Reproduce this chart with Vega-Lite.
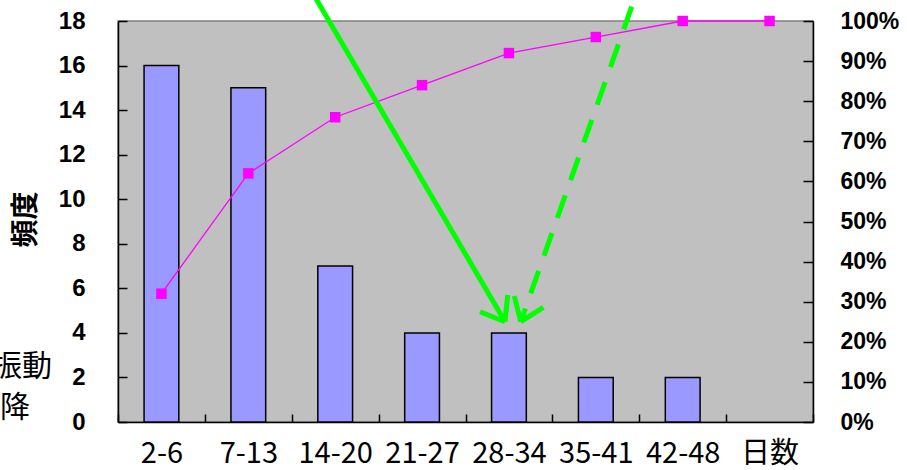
{
  "$schema": "https://vega.github.io/schema/vega-lite/v6.json",
  "width": 695,
  "height": 401,
  "autosize": "none",
  "padding": {"left": 118, "top": 21, "right": 94, "bottom": 48},
  "background": "white",
  "config": {
    "view": {"fill": "#C0C0C0", "stroke": "#808080", "strokeWidth": 1.5}
  },
  "datasets": {
    "hist": [
      {"cls": "2-6", "freq": 16, "cum": 0.32},
      {"cls": "7-13", "freq": 15, "cum": 0.62},
      {"cls": "14-20", "freq": 7, "cum": 0.76},
      {"cls": "21-27", "freq": 4, "cum": 0.84},
      {"cls": "28-34", "freq": 4, "cum": 0.92},
      {"cls": "35-41", "freq": 2, "cum": 0.96},
      {"cls": "42-48", "freq": 2, "cum": 1.0},
      {"cls": "日数", "freq": null, "cum": 1.0}
    ],
    "arrows": [
      {"arrow": "1", "part": "shaft", "x": 2.254, "y": 19.167, "x2": 4.455, "y2": 4.502},
      {"arrow": "1", "part": "head", "x": 4.167, "y": 4.951, "x2": 4.455, "y2": 4.502},
      {"arrow": "1", "part": "head", "x": 4.486, "y": 5.701, "x2": 4.455, "y2": 4.502},
      {"arrow": "2", "part": "shaft", "x": 5.913, "y": 18.642, "x2": 4.636, "y2": 4.502},
      {"arrow": "2", "part": "head", "x": 4.562, "y": 5.656, "x2": 4.636, "y2": 4.502},
      {"arrow": "2", "part": "head", "x": 4.896, "y": 5.149, "x2": 4.636, "y2": 4.502}
    ],
    "notes": [
      {"label": "振動", "x": -0.76, "y": 2.47},
      {"label": "降", "x": -1.013, "y": 0.63}
    ]
  },
  "layer": [
    {
      "data": {"name": "hist"},
      "mark": {"type": "bar", "fill": "#9999FF", "stroke": "black", "strokeWidth": 1.5, "width": {"band": 0.4}},
      "encoding": {
        "x": {
          "field": "cls", "type": "nominal", "sort": null,
          "scale": {"type": "band", "paddingInner": 0, "paddingOuter": 0,
                    "domain": ["2-6", "7-13", "14-20", "21-27", "28-34", "35-41", "42-48", "日数"]},
          "axis": {
            "title": null, "labelAngle": 0, "tickBand": "extent",
            "tickSize": -8, "tickColor": "black", "tickWidth": 1.5,
            "domainColor": "black", "domainWidth": 1.5,
            "labelFont": "Noto Sans CJK JP", "labelFontSize": 29, "labelColor": "black",
            "labelPadding": 25, "labelOverlap": false
          }
        },
        "y": {
          "field": "freq", "type": "quantitative",
          "scale": {"domain": [0, 18], "nice": false},
          "axis": {
            "orient": "left", "values": [0, 2, 4, 6, 8, 10, 12, 14, 16, 18], "grid": false,
            "tickSize": -9, "tickColor": "black", "tickWidth": 1.5,
            "domainColor": "black", "domainWidth": 1.5,
            "labelFont": "Liberation Sans", "labelFontSize": 24, "labelFontWeight": "bold", "labelColor": "black",
            "labelPadding": 42,
            "title": "頻度", "titleFont": "Noto Sans CJK JP", "titleFontSize": 28, "titleFontWeight": "bold",
            "titleColor": "black", "titleX": -92, "titleY": 198, "titleAlign": "center", "titleBaseline": "middle", "titleAngle": -90
          }
        }
      }
    },
    {
      "data": {"name": "hist"},
      "mark": {"type": "line", "color": "#FF00FF", "strokeWidth": 1.3,
               "point": {"shape": "square", "size": 110, "filled": true, "color": "#FF00FF"}},
      "encoding": {
        "x": {"field": "cls", "type": "nominal", "sort": null,
              "scale": {"type": "point", "padding": 0.5,
                        "domain": ["2-6", "7-13", "14-20", "21-27", "28-34", "35-41", "42-48", "日数"]}, "axis": null},
        "y": {
          "field": "cum", "type": "quantitative",
          "scale": {"domain": [0, 1], "nice": false},
          "axis": {
            "orient": "right", "values": [0, 0.1, 0.2, 0.3, 0.4, 0.5, 0.6, 0.7, 0.8, 0.9, 1], "format": ".0%", "grid": false,
            "tickSize": -10, "tickColor": "black", "tickWidth": 1.5,
            "domainColor": "black", "domainWidth": 1.5,
            "labelFont": "Liberation Sans", "labelFontSize": 23, "labelFontWeight": "bold", "labelColor": "black",
            "labelPadding": 37, "labelAlign": "left", "title": null
          }
        }
      }
    },
    {
      "data": {"name": "arrows"},
      "transform": [{"filter": "datum.part == 'head' || datum.arrow == '1'"}],
      "mark": {"type": "rule", "color": "#00FF00", "strokeWidth": 5},
      "encoding": {
        "x": {"field": "x", "type": "quantitative", "scale": {"domain": [0, 8], "nice": false, "zero": false}, "axis": null},
        "y": {"field": "y", "type": "quantitative", "scale": {"domain": [0, 18], "nice": false, "zero": false}, "axis": null},
        "x2": {"field": "x2"},
        "y2": {"field": "y2"}
      }
    },
    {
      "data": {"name": "arrows"},
      "transform": [{"filter": "datum.part == 'shaft' && datum.arrow == '2'"}],
      "mark": {"type": "rule", "color": "#00FF00", "strokeWidth": 5, "strokeDash": [24, 16]},
      "encoding": {
        "x": {"field": "x", "type": "quantitative", "scale": {"domain": [0, 8], "nice": false, "zero": false}, "axis": null},
        "y": {"field": "y", "type": "quantitative", "scale": {"domain": [0, 18], "nice": false, "zero": false}, "axis": null},
        "x2": {"field": "x2"},
        "y2": {"field": "y2"}
      }
    },
    {
      "data": {"name": "notes"},
      "mark": {"type": "text", "align": "right", "baseline": "middle", "font": "Noto Sans CJK JP", "fontSize": 30, "color": "black"},
      "encoding": {
        "x": {"field": "x", "type": "quantitative", "scale": {"domain": [0, 8], "nice": false, "zero": false}, "axis": null},
        "y": {"field": "y", "type": "quantitative", "scale": {"domain": [0, 18], "nice": false, "zero": false}, "axis": null},
        "text": {"field": "label"}
      }
    }
  ],
  "resolve": {"scale": {"x": "independent", "y": "independent"}}
}
